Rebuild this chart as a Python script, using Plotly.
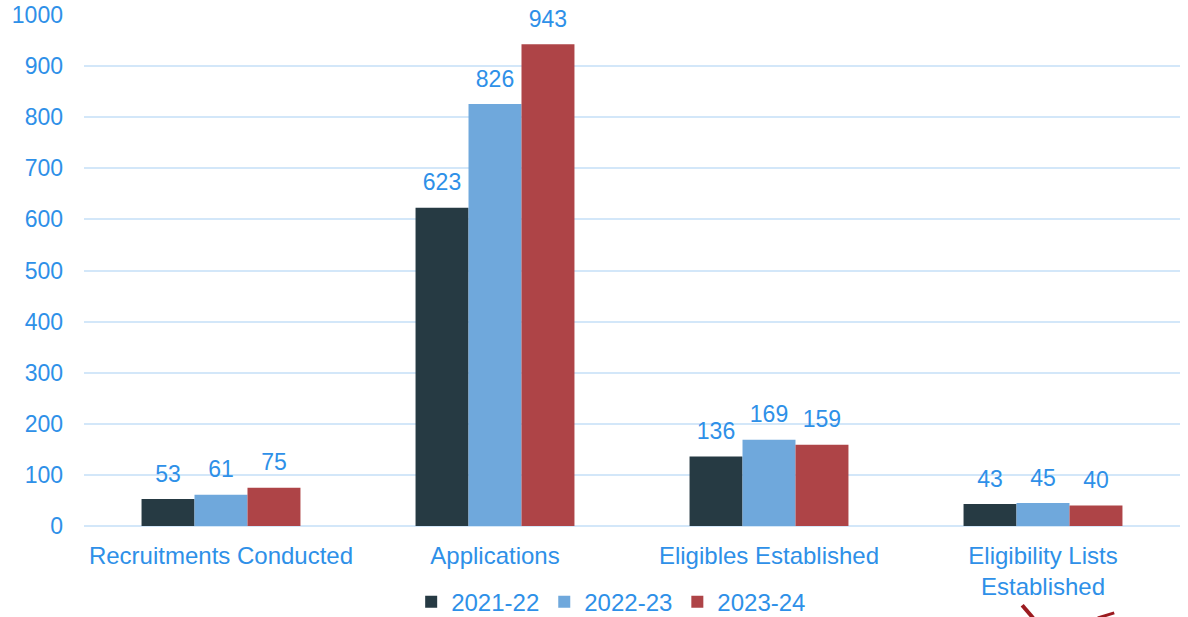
import plotly.graph_objects as go

categories = ["Recruitments Conducted", "Applications", "Eligibles Established", "Eligibility Lists<br>Established"]
series_names = ["2021-22", "2022-23", "2023-24"]
values_2021 = [53, 623, 136, 43]
values_2022 = [61, 826, 169, 45]
values_2023 = [75, 943, 159, 40]
y_ticks = [0, 100, 200, 300, 400, 500, 600, 700, 800, 900, 1000]

colors = ["#263A43", "#6FA8DC", "#AE4447"]
text_color = "#2E90E8"
font_family = "Liberation Sans, Arial, sans-serif"
FS = 23
FS_CAT = 24

fig = go.Figure()
all_vals = [values_2021, values_2022, values_2023]
for i, (name, vals, col) in enumerate(zip(series_names, all_vals, colors)):
    fig.add_trace(go.Bar(
        x=categories, y=vals, name=name, offsetgroup=str(i),
        marker=dict(color=col, line=dict(width=0)),
    ))
for i, (name, vals) in enumerate(zip(series_names, all_vals)):
    fig.add_trace(go.Scatter(
        x=categories, y=vals, name=name, offsetgroup=str(i), showlegend=False,
        mode="markers+text", text=[str(v) for v in vals], textposition="top center",
        marker=dict(size=17, opacity=0), hoverinfo="skip",
        textfont=dict(color=text_color, size=FS, family=font_family),
        cliponaxis=False,
    ))

fig.update_layout(
    template="none",
    width=1188, height=617,
    margin=dict(l=84, r=8, t=15, b=91, autoexpand=False),
    paper_bgcolor="white", plot_bgcolor="white",
    barmode="group", bargap=0.42, bargroupgap=0,
    scattermode="group", scattergap=0.42,
    font=dict(family=font_family, color=text_color, size=FS),
    showlegend=True,
    legend=dict(orientation="h", x=0.481, xanchor="center", yref="container", y=0.024, yanchor="middle",
                font=dict(size=FS_CAT, color=text_color), traceorder="normal",
                bgcolor="rgba(0,0,0,0)", borderwidth=0),
    shapes=[
        dict(type="line", xref="paper", yref="paper", x0=0.856, y0=-0.155, x1=0.866, y1=-0.18,
             line=dict(color="#9B1B20", width=4)),
        dict(type="line", xref="paper", yref="paper", x0=0.925, y0=-0.18, x1=0.94, y1=-0.17,
             line=dict(color="#9B1B20", width=3)),
    ],
)
fig.update_xaxes(showgrid=False, showline=False, ticks="", automargin=False, zeroline=False,
                 tickfont=dict(size=FS_CAT, color=text_color), ticklabelstandoff=13)
fig.update_yaxes(range=[0, 1000], tickvals=y_ticks, showgrid=True, gridcolor="#D3E7F9", gridwidth=2,
                 zeroline=True, zerolinecolor="#D3E7F9", zerolinewidth=2, showline=False, ticks="",
                 automargin=False, tickfont=dict(size=FS, color=text_color), ticklabelstandoff=20)

fig.write_html("out.html", config={"displayModeBar": False},
               post_script="document.body.style.margin='0';document.body.style.overflow='hidden';")
